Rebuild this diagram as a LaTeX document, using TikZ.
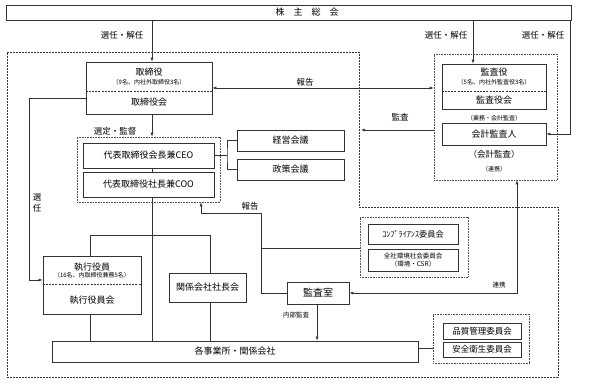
\documentclass[tikz,border=0pt]{standalone}
\usepackage{fontspec}
\setmainfont{Noto Sans CJK JP}
\usetikzlibrary{arrows.meta,calc}
\begin{document}
\begin{tikzpicture}[x=1pt,y=-1pt,
  box/.style={draw=black!80,line width=0.8pt,fill=white,inner sep=0pt,align=center,font=\fontsize{9}{10}\selectfont},
  grp/.style={draw=black!70,line width=0.6pt,densely dotted,inner sep=0pt},
  conn/.style={draw=black!80,line width=0.6pt},
  arr/.style={conn,-{Latex[length=4pt,width=3pt]}},
  darr/.style={conn,{Latex[length=4pt,width=3pt]}-{Latex[length=4pt,width=3pt]}},
  lbl/.style={inner sep=0pt,align=center,font=\fontsize{8.5}{9}\selectfont},
  small/.style={inner sep=0pt,font=\fontsize{6}{7}\selectfont},
  splitline/.style={draw=black!80,line width=0.7pt,dashed,dash pattern=on 2pt off 1.2pt}
]
\useasboundingbox (0,0) rectangle (593,387);
\fill[white] (0,0) rectangle (593,387);

% outer dashed region
\draw[black!80,line width=0.8pt,dash pattern=on 2pt off 1pt] (7,52) -- (359,52) -- (359,207) -- (558,207) -- (558,377) -- (7,377) -- cycle;

% groups
\node[grp,minimum width=123,minimum height=126] (kgrp) at (495.5,117) {};
\node[grp,minimum width=143,minimum height=65] (cgrp) at (148.5,169.5) {};
\node[grp,minimum width=108,minimum height=60] (compgrp) at (414,247) {};
\node[grp,minimum width=96,minimum height=49] (qgrp) at (481,338.5) {};

% boxes
\node[box,minimum width=565,minimum height=15] (kabu) at (288.5,12.5) {};
\node[lbl,font=\fontsize{9}{10}\selectfont] (kabut) at (307,12.5) {株\hspace{9pt}主\hspace{9pt}総\hspace{9pt}会};

\node[box,minimum width=126,minimum height=52] (tori) at (149,88) {};
\draw[splitline] (tori.west |- 0,91) -- (tori.east |- 0,91);
\node[lbl,font=\fontsize{9}{10}\selectfont] (torit1) at (149,72) {取締役};
\node[small] (torit2) at (149,82.5) {（9名、内社外取締役3名）};
\node[lbl,font=\fontsize{9}{10}\selectfont] (torit3) at (149,102) {取締役会};

\node[box,minimum width=104,minimum height=45] (kyaku) at (494,86.5) {};
\draw[splitline] (kyaku.west |- 0,91) -- (kyaku.east |- 0,91);
\node[lbl,font=\fontsize{9}{10}\selectfont] (kyt1) at (494,72) {監査役};
\node[small] (kyt2) at (494,82) {（5名、内社外監査役3名）};
\node[lbl,font=\fontsize{9}{10}\selectfont] (kyt3) at (494,100) {監査役会};
\node[small] (gyomu) at (494,118) {（業務・会計監査）};
\node[box,minimum width=104,minimum height=22] (kaikei) at (494,134) {会計監査人};
\node[lbl] (kaikeit) at (494,154) {（会計監査）};
\node[small] (renkeit) at (494,169) {（連携）};

\node[box,minimum width=131,minimum height=25] (ceo) at (148.5,155.5) {代表取締役会長兼CEO};
\node[box,minimum width=131,minimum height=25] (coo) at (148.5,184.5) {代表取締役社長兼COO};

\node[box,minimum width=107,minimum height=21] (keiei) at (290.5,140.5) {経営会議};
\node[box,minimum width=107,minimum height=21] (seisaku) at (290.5,169.5) {政策会議};

\node[box,minimum width=98,minimum height=58] (shikko) at (92,285) {};
\draw[splitline] (shikko.west |- 0,284) -- (shikko.east |- 0,284);
\node[lbl,font=\fontsize{9}{10}\selectfont] (sht1) at (92,267) {執行役員};
\node[small] (sht2) at (92,275.5) {（16名、内取締役兼務5名）};
\node[lbl,font=\fontsize{9}{10}\selectfont] (sht3) at (92,300) {執行役員会};

\node[box,minimum width=77,minimum height=29] (kankei) at (207.5,287.5) {関係会社社長会};
\node[box,minimum width=366,minimum height=21] (jigyo) at (235,351.5) {各事業所・関係会社};
\node[box,minimum width=62,minimum height=22,font=\fontsize{10}{11}\selectfont] (kshitsu) at (318,293) {監査室};

\node[box,minimum width=90,minimum height=20,font=\fontsize{8.2}{9}\selectfont] (comp) at (413,234) {ｺﾝﾌﾟﾗｲｱﾝｽ委員会};
\node[box,minimum width=90,minimum height=22,font=\fontsize{6.5}{7.5}\selectfont] (zensha) at (413,260) {全社環境社会委員会\\（環境・CSR）};

\node[box,minimum width=78,minimum height=16,font=\fontsize{8.5}{9}\selectfont] (hinshitsu) at (482,331) {品質管理委員会};
\node[box,minimum width=78,minimum height=15,font=\fontsize{8.5}{9}\selectfont] (anzen) at (482,349.5) {安全衛生委員会};

% column coordinates
\coordinate (c1) at (152,0);
\coordinate (c2) at (473,0);
\coordinate (c3) at (570,0);
\coordinate (bx) at (227,0);
\coordinate (sl) at (29,98);
\coordinate (sa) at (29,280);
\coordinate (ja) at (90,235);
\coordinate (jb) at (210,235);
\coordinate (ra) at (261,293);
\coordinate (rb) at (261,213);
\coordinate (rc) at (201,213);
\coordinate (rd) at (261,248);
\coordinate (ia) at (317,0);
\coordinate (ka) at (517,0);
\coordinate (ma) at (361,130);
\coordinate (qa) at (0,348);

% connectors
\draw[arr] (kabu.south -| c1) -- (tori.north -| c1);
\draw[arr] (kabu.south -| c2) -- (kyaku.north -| c2);
\draw[arr] (kabu.south -| c3) |- (kaikei.east);
\draw[darr] (tori.east) -- (tori.east -| kgrp.west);
\draw[arr] (kgrp.west |- ma) -- (ma);
\draw[arr] (tori.south -| c1) -- (cgrp.north -| c1);
\draw[conn] (ceo.south -| c1) -- (coo.north -| c1);
\draw[conn] (ceo.east) -- (ceo.east -| bx);
\draw[conn] (keiei.west) -| (bx |- ceo.east) |- (seisaku.west);
\draw[arr] (sl -| tori.west) -- (sl) -- (sa) -- (sa -| shikko.west);
\draw[conn] (coo.south -| c1) -- (jigyo.north -| c1);
\draw[conn] (ja |- shikko.north) -- (ja) -- (jb) -- (jb |- kankei.north);
\draw[conn] (ja |- shikko.south) -- (ja |- jigyo.north);
\draw[conn] (jb |- kankei.south) -- (jb |- jigyo.north);
\draw[arr] (kshitsu.west) -- (ra) -- (rb) -- (rc) -- (rc |- cgrp.south);
\draw[conn] (rd) -- (rd -| compgrp.west);
\draw[arr] (kshitsu.south -| ia) -- (jigyo.north -| ia);
\draw[darr] (kshitsu.east) -| (ka |- kgrp.south);
\draw[conn] (jigyo.east |- qa) -- (qgrp.west |- qa);

% labels
\node[lbl] (l1) at (122,35) {選任・解任};
\node[lbl] (l2) at (446,35) {選任・解任};
\node[lbl] (l3) at (543,35) {選任・解任};
\node[lbl] (l4) at (305,82) {報告};
\node[lbl] (l5) at (400,117) {監査};
\node[lbl] (l6) at (115,131) {選定・監督};
\node[lbl] (l7) at (250,206) {報告};
\node[lbl,font=\fontsize{8.5}{11}\selectfont] (l8) at (37,202.5) {選\\任};
\node[lbl,font=\fontsize{6.5}{7}\selectfont] (l9) at (296,315) {内部監査};
\node[lbl,font=\fontsize{6.5}{7}\selectfont] (l10) at (499,285) {連携};
\end{tikzpicture}
\end{document}
